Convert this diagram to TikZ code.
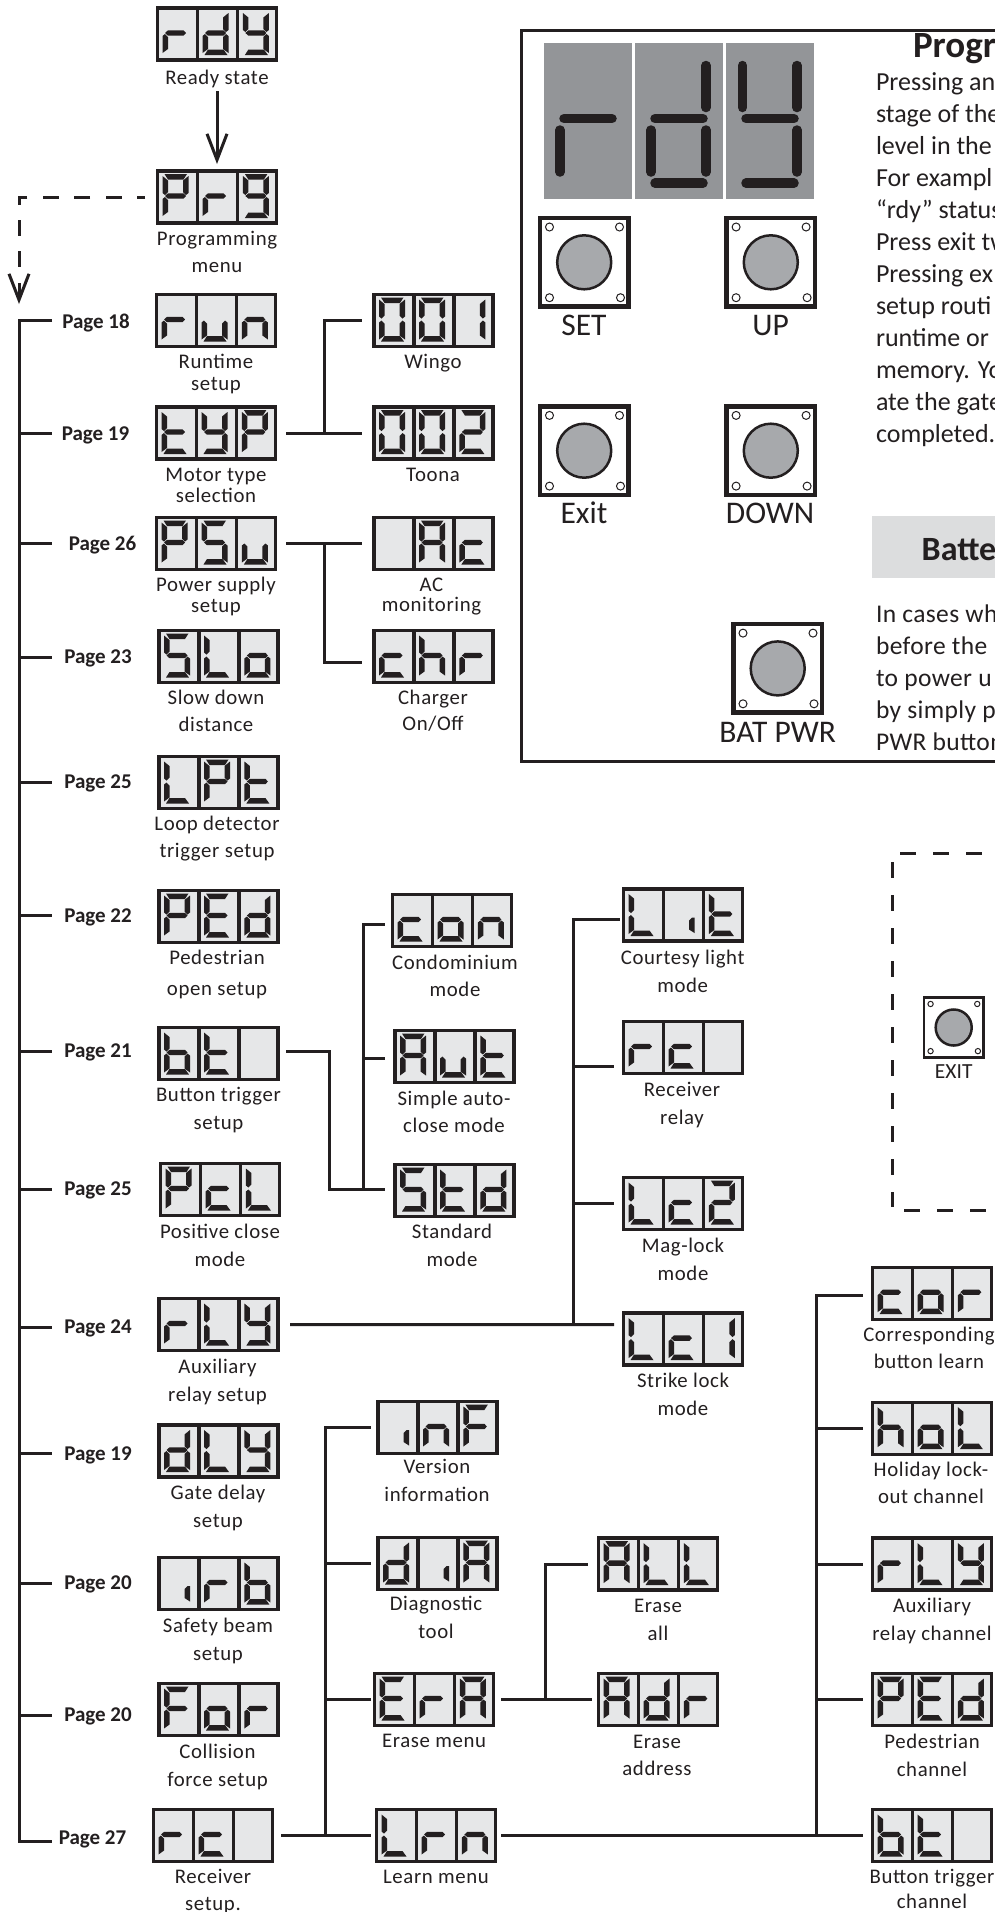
\documentclass[tikz,border=0pt]{standalone}
\usepackage{fontspec}
\usetikzlibrary{arrows.meta,calc}
\setmainfont{Carlito}
\newfontfamily\lblf[LetterSpace=3]{Carlito}
\newfontfamily\parf[LetterSpace=1.5]{Carlito}
\definecolor{ink}{HTML}{231F20}
\definecolor{cell}{HTML}{E6E7E8}
\definecolor{biglcd}{HTML}{939598}
\definecolor{btngray}{HTML}{A7A9AC}
\definecolor{panelgray}{HTML}{DCDDDE}
\tikzset{
  lcdbox/.style={draw=ink,fill=cell,line width=3.4pt,minimum width=119pt,minimum height=52pt,inner sep=0pt,outer sep=0pt,anchor=center},
  conn/.style={draw=ink,line width=3pt},
  barb/.style={-{Straight Barb[length=26pt,width=20pt,line width=3pt]}},
  dashconn/.style={conn,dash pattern=on 16pt off 15.4pt,dash phase=8pt},
  frameline/.style={draw=ink,line width=3pt},
  dashframe/.style={draw=ink,line width=3pt,dash pattern=on 16pt off 17pt},
  lbl/.style={inner sep=0pt,outer sep=0pt,anchor=north,align=center,text=ink},
  pagelbl/.style={inner sep=0pt,outer sep=0pt,anchor=base,text=ink,font=\bfseries\fontsize{21}{24}\selectfont},
  paraline/.style={inner sep=0pt,outer sep=0pt,anchor=base west,text=ink,font=\fontsize{26}{30}\selectfont},
  paraB/.style={inner sep=0pt,outer sep=0pt,anchor=base west,text=ink,font=\parf\fontsize{25.5}{30}\selectfont},
  head/.style={inner sep=0pt,outer sep=0pt,anchor=base west,text=ink,font=\bfseries\fontsize{37}{40}\selectfont},
  headB/.style={inner sep=0pt,outer sep=0pt,anchor=base west,text=ink,font=\bfseries\fontsize{34}{40}\selectfont},
  btnlbl/.style={inner sep=0pt,outer sep=0pt,anchor=base,text=ink,font=\fontsize{31.5}{34}\selectfont},
}
% segments, local pixel coordinates inside one cell
\def\sga{\fill[ink] (8.5,4.5)--(31,4.5)--(27.5,10)--(12,10)--cycle;}
\def\sgd{\fill[ink] (12,43)--(27.5,43)--(31.5,48.5)--(8.5,48.5)--cycle;}
\def\sgg{\fill[ink] (9,26.5)--(12,23.8)--(27.5,23.8)--(30,26.5)--(27.5,29.2)--(12,29.2)--cycle;}
\def\sgf{\fill[ink] (6.5,6.5)--(12,11)--(12,22.5)--(9,25.5)--(6.5,23.5)--cycle;}
\def\sge{\fill[ink] (6.5,29.5)--(9,27.5)--(12,30.5)--(12,42.5)--(6.5,46.5)--cycle;}
\def\sgb{\fill[ink] (32.5,6.5)--(32.5,23.5)--(30,25.5)--(27,22.5)--(27,11)--cycle;}
\def\sgc{\fill[ink] (32.5,29.5)--(32.5,46.5)--(27,42.5)--(27,30.5)--(30,27.5)--cycle;}
\def\sgi{\fill[ink] (27,33)--(30,30)--(32.5,30)--(32.5,45.5)--(27,42)--cycle;}
\def\segloop#1{\ifx#1\relax\else\csname sg#1\endcsname\expandafter\segloop\fi}
% \lcd{name}{x}{y}{digit1}{digit2}{digit3}
\newcommand\lcd[6]{%
  \node[lcdbox] (#1) at (#2+61,#3+27.5) {};
  \begin{scope}[shift={(#2,#3)}]
    \draw[ink,line width=3.6pt] (41.3,1)--(41.3,54) (81.3,1)--(81.3,54);
    \begin{scope}[shift={(0,0)}]\segloop#4\relax\end{scope}
    \begin{scope}[shift={(40,0)}]\segloop#5\relax\end{scope}
    \begin{scope}[shift={(80.4,0)}]\segloop#6\relax\end{scope}
  \end{scope}}
% \lab{name}{cx}{first baseline}{leading}{text}
\newcommand\lab[5]{\node[lbl,font=\lblf\fontsize{20.8}{#4}\selectfont] (#1) at (#2,#3-15) {\rule{0pt}{15pt}#5};}
% \btn{name}{cx}{cy}{scale}{frame line width}
\newcommand\btn[5]{%
  \begin{scope}[shift={(#2,#3)},scale=#4]
    \node[draw=ink,fill=white,line width=#5pt,inner sep=0pt,outer sep=0pt,minimum size={(93*#4-#5)*1pt}] (#1) at (0,0) {};
    \fill[btngray,draw=ink,line width=2.5pt] (0,0) circle (27);
    \foreach \hx/\hy in {-34.7/-35.3,35.3/-35.3,-34.7/35.4,36.3/35.4}
      \draw[ink,fill=white,line width=1pt] (\hx,\hy) circle (4);
  \end{scope}}
\newcommand\barH[4]{\draw[ink,line width=9.5pt,line cap=round] (#1+#2,#3)--(#1+#4,#3);}
\newcommand\barV[4]{\draw[ink,line width=9.5pt,line cap=round] (#1+#2,#3)--(#1+#2,#4);}
\begin{document}
\begin{tikzpicture}[x=1pt,y=-1pt]
\useasboundingbox (0,0) rectangle (995,1912);
\fill[white] (0,0) rectangle (995,1912);

% ---------- panel ----------
\draw[frameline] (995,30)--(521,30)--(521,761)--(995,761);
\fill[biglcd] (544,43) rectangle (632,199);
\fill[biglcd] (635,43) rectangle (723,199);
\fill[biglcd] (726,43) rectangle (814,199);
% r
\barH{544}{20}{118.6}{68}
\barV{544}{16}{130}{172}
% d
\barV{635}{71}{65.5}{107.5}
\barH{635}{20}{118.6}{68}
\barV{635}{16}{130}{172}
\barV{635}{71}{130}{172}
\barH{635}{20}{183.2}{68}
% y
\barV{726}{16.5}{65.5}{107.5}
\barV{726}{71}{65.5}{107.5}
\barH{726}{20}{118.6}{68}
\barV{726}{71}{130}{172}
\barH{726}{20}{183.2}{68}

\btn{bset}{584.2}{262.3}{1}{4.5}
\btn{bup}{770.8}{262.3}{1}{4.5}
\btn{bexit}{584.2}{450.7}{1}{4.5}
\btn{bdown}{770.8}{450.7}{1}{4.5}
\btn{bbat}{777.7}{668.4}{1}{4.5}
\node[btnlbl] (tset) at (584,335) {SET};
\node[btnlbl] (tup) at (770.6,335) {UP};
\node[btnlbl] (texit) at (584,523) {Exit};
\node[btnlbl] (tdown) at (770,523) {DOWN};
\node[btnlbl] (tbat) at (777.7,742.6) {BAT PWR};

\node[head] (phead) at (913,57.5) {Progr};
\node[paraline] (pa1) at (876,90.5) {Pressing an};
\node[paraline] (pa2) at (876,122.5) {stage of the};
\node[paraline] (pa3) at (876,154.5) {level in the};
\node[paraline] (pa4) at (876,186.5) {For exampl};
\node[paraline] (pa5) at (876,218.5) {“rdy” status};
\node[paraline] (pa6) at (876,250.5) {Press exit tw};
\node[paraline] (pa7) at (876,282.5) {Pressing ex};
\node[paraline] (pa8) at (876,314.5) {setup routi};
\node[paraline] (pa9) at (876,346.5) {runtime or};
\node[paraline] (pa10) at (876,378.5) {memory. Yo};
\node[paraline] (pa11) at (876,410.5) {ate the gate};
\node[paraline] (pa12) at (876,442.5) {completed.};

\fill[panelgray] (872,516) rectangle (995,577.5);
\node[headB] (bhead) at (921.7,560.8) {Batte};
\node[paraB] (pb1) at (876,622) {In cases wh};
\node[paraB] (pb2) at (876,654) {before the};
\node[paraB] (pb3) at (876,686) {to power u};
\node[paraB] (pb4) at (876,718) {by simply p};
\node[paraB] (pb5) at (876,750) {PWR button};

% ---------- dashed frame ----------
\draw[dashframe] (900,853)--(995,853);
\draw[dashframe] (892,862)--(892,1207);
\draw[dashframe] (904,1210.5)--(995,1210.5);
\btn{bsmall}{953.7}{1027.5}{0.667}{2.6}
\node[btnlbl,font=\fontsize{21.5}{24}\selectfont] (tsmall) at (953.7,1078) {EXIT};

% ---------- displays ----------
\lcd{rdy}{156}{6.5}{eg}{bcdeg}{bcdfg}
\lcd{prg}{156}{169.5}{abefg}{eg}{abcdfg}
\lcd{run}{155}{293}{eg}{cde}{ceg}
\lcd{typ}{155}{405.5}{defg}{bcdfg}{abefg}
\lcd{psu}{155}{516}{abefg}{acdfg}{cde}
\lcd{slo}{157.5}{629}{acdfg}{def}{cdeg}
\lcd{lpt}{157.5}{755}{def}{abefg}{defg}
\lcd{ped}{157.5}{889}{abefg}{adefg}{bcdeg}
\lcd{btn}{157.5}{1026}{cdefg}{defg}{}
\lcd{pcl}{159}{1162}{abefg}{deg}{def}
\lcd{rly}{157.5}{1297}{eg}{def}{bcdfg}
\lcd{dly}{157.5}{1423.5}{bcdeg}{def}{bcdfg}
\lcd{irb}{157.5}{1556}{i}{eg}{cdefg}
\lcd{for}{157.5}{1682}{aefg}{cdeg}{eg}
\lcd{rc}{152}{1808}{eg}{deg}{}
\lcd{w001}{372.5}{293}{abcdef}{abcdef}{bc}
\lcd{w002}{372.5}{405.5}{abcdef}{abcdef}{abdeg}
\lcd{ac}{372.5}{516}{}{abcefg}{deg}
\lcd{chr}{372.5}{629}{deg}{cefg}{eg}
\lcd{con}{391}{893}{deg}{cdeg}{ceg}
\lcd{aut}{393.5}{1029}{abcefg}{cde}{defg}
\lcd{std}{393.5}{1163}{acdfg}{defg}{bcdeg}
\lcd{inf}{376.5}{1400}{i}{ceg}{aefg}
\lcd{dia}{376.5}{1536}{bcdeg}{i}{abcefg}
\lcd{era}{373}{1672}{adefg}{eg}{abcefg}
\lcd{lrn}{375}{1808}{def}{eg}{ceg}
\lcd{lit}{622}{887.5}{def}{i}{defg}
\lcd{rc2}{622}{1020}{eg}{deg}{}
\lcd{lc2}{622}{1176}{def}{deg}{abdeg}
\lcd{lc1}{622}{1311.6}{def}{deg}{bc}
\lcd{all}{597}{1536.6}{abcefg}{def}{def}
\lcd{adr}{597}{1672}{abcefg}{bcdeg}{eg}
\lcd{cor}{871}{1265.7}{deg}{cdeg}{eg}
\lcd{hol}{871}{1400.7}{cefg}{cdeg}{def}
\lcd{rly2}{871}{1536.6}{eg}{def}{bcdfg}
\lcd{ped2}{871}{1672}{abefg}{adefg}{bcdeg}
\lcd{bt2}{871}{1808}{cdefg}{defg}{}

% ---------- labels ----------
\lab{lrdy}{217}{84}{24}{Ready state}
\lab{lprg}{217}{245}{27}{Programming\\menu}
\lab{lrun}{216}{368}{22}{Runtime\\setup}
\lab{ltyp}{216}{481}{21}{Motor type\\selection}
\lab{lpsu}{216}{591.7}{21}{Power supply\\setup}
\lab{lslo}{216}{704}{27.7}{Slow down\\distance}
\lab{llpt}{217}{830}{27.7}{Loop detector\\trigger setup}
\lab{lped}{217}{964}{31.5}{Pedestrian\\open setup}
\lab{lbtn}{218.5}{1101}{28}{Button trigger\\setup}
\lab{lpcl}{220}{1238}{28}{Positive close\\mode}
\lab{lrly}{217.5}{1373}{28}{Auxiliary\\relay setup}
\lab{ldly}{218}{1499}{28}{Gate delay\\setup}
\lab{lirb}{218}{1632}{28}{Safety beam\\setup}
\lab{lfor}{217.5}{1758}{28}{Collision\\force setup}
\lab{lrc}{213}{1883}{27.5}{Receiver\\setup.}
\lab{lw1}{433}{368}{24}{Wingo}
\lab{lw2}{433}{481}{24}{Toona}
\lab{lac}{431.5}{591.7}{19.5}{AC\\monitoring}
\lab{lchr}{433}{704}{26}{Charger\\On/Off}
\lab{lcon}{455}{969}{27}{Condominium\\mode}
\lab{laut}{454}{1105}{27.7}{Simple auto-\\close mode}
\lab{lstd}{452}{1238}{28}{Standard\\mode}
\lab{linf}{437}{1473.7}{27.5}{Version\\information}
\lab{ldia}{436}{1610}{28}{Diagnostic\\tool}
\lab{lera}{434}{1747}{24}{Erase menu}
\lab{llrn}{436}{1883}{24}{Learn menu}
\lab{llit}{682.7}{964}{28}{Courtesy light\\mode}
\lab{lrc2}{682}{1096.6}{27.5}{Receiver\\relay}
\lab{llc2}{683}{1252}{28}{Mag-lock\\mode}
\lab{llc1}{683}{1387}{28}{Strike lock\\mode}
\lab{lall}{658}{1612}{28}{Erase\\all}
\lab{ladr}{657}{1748}{27}{Erase\\address}
\lab{lcor}{929}{1341.6}{27}{Corresponding\\button learn}
\lab{lhol}{931}{1476.6}{27}{Holiday lock-\\out channel}
\lab{lrl2}{932}{1612}{28}{Auxiliary\\relay channel}
\lab{lpe2}{932}{1748}{28}{Pedestrian\\channel}
\lab{lbt2}{932}{1883}{25}{Button trigger\\channel}

% ---------- page labels ----------
\node[pagelbl] (p18) at (96,328) {Page 18};
\node[pagelbl] (p19a) at (95.5,440) {Page 19};
\node[pagelbl] (p26) at (102.5,550) {Page 26};
\node[pagelbl] (p23) at (98,663) {Page 23};
\node[pagelbl] (p25a) at (98,788) {Page 25};
\node[pagelbl] (p22) at (98,922) {Page 22};
\node[pagelbl] (p21) at (98,1057) {Page 21};
\node[pagelbl] (p25b) at (98,1195) {Page 25};
\node[pagelbl] (p24) at (98,1333) {Page 24};
\node[pagelbl] (p19b) at (98,1460) {Page 19};
\node[pagelbl] (p20a) at (98,1589) {Page 20};
\node[pagelbl] (p20b) at (98,1721) {Page 20};
\node[pagelbl] (p27) at (92.5,1844) {Page 27};

% ---------- trunk and ticks ----------
\coordinate (trunk) at (19,0);
\coordinate (t18) at (52,320);
\coordinate (t19a) at (52,433);
\coordinate (t26) at (52,543.5);
\coordinate (t23) at (52,657);
\coordinate (t25a) at (52,782);
\coordinate (t22) at (52,915.7);
\coordinate (t21) at (52,1051);
\coordinate (t25b) at (52,1189);
\coordinate (t24) at (52,1327.7);
\coordinate (t19b) at (52,1453.7);
\coordinate (t20a) at (52,1583.7);
\coordinate (t20b) at (52,1715);
\coordinate (t27) at (52,1841);
\draw[conn] (t18)--(t18-|trunk)--(t27-|trunk)--(t27);
\foreach \t in {t19a,t26,t23,t25a,t22,t21,t25b,t24,t19b,t20a,t20b}
  \draw[conn] (\t-|trunk)--(\t);

% ---------- arrows ----------
\draw[conn,barb] ([yshift=-31pt]rdy.south)--([yshift=7pt]prg.north);
\coordinate (dtip) at (19,304);
\draw[dashconn,barb] ([xshift=-12.5pt]prg.west)-|(dtip);

% ---------- branches ----------
\coordinate (j1) at (324,433);
\draw[conn] ([xshift=10.5pt]typ.east)--([xshift=-12pt]w002.west);
\draw[conn] (j1)|-([xshift=-12pt]w001.west);

\coordinate (j2) at (324,543.5);
\draw[conn] ([xshift=10.5pt]psu.east)--([xshift=-12pt]ac.west);
\draw[conn] (j2)|-([xshift=-12pt,yshift=-6pt]chr.west);

\coordinate (j3a) at (329,1189);
\coordinate (j3) at (363,1189);
\coordinate (taut) at ([xshift=-10pt,yshift=-1.5pt]aut.west);
\draw[conn] ([xshift=8pt,yshift=1.8pt]btn.east)-|(j3a)--([xshift=-10pt,yshift=1.5pt]std.west);
\draw[conn] (j3)|-([xshift=-7.5pt,yshift=-3.8pt]con.west);
\draw[conn] (taut-|j3)--(taut);

\coordinate (j4) at (573.5,1324.5);
\coordinate (trc2) at ([xshift=-9.5pt,yshift=-18.5pt]rc2.west);
\coordinate (tlc2) at ([xshift=-9.5pt,yshift=0.5pt]lc2.west);
\draw[conn] ([xshift=12pt]rly.east)--([xshift=-9.5pt,yshift=14.5pt]lc1.west);
\draw[conn] (j4)|-([xshift=-4pt,yshift=-4.6pt]lit.west);
\draw[conn] (trc2-|j4)--(trc2);
\draw[conn] (tlc2-|j4)--(tlc2);

\coordinate (j5) at (325,1835.5);
\coordinate (tdia) at ([xshift=-7pt]dia.west);
\coordinate (tera) at ([xshift=-3.5pt]era.west);
\draw[conn] ([xshift=8.5pt]rc.east)--([xshift=-5.5pt]lrn.west);
\draw[conn] (j5)|-([xshift=-7pt]inf.west);
\draw[conn] (tdia-|j5)--(tdia);
\draw[conn] (tera-|j5)--(tera);

\coordinate (j6) at (545,1699.5);
\draw[conn] ([xshift=7.5pt]era.east)--([xshift=-6.5pt]adr.west);
\draw[conn] (j6)|-([xshift=-10.5pt]all.west);

\coordinate (j7) at (816.7,1835.5);
\coordinate (thol) at ([xshift=-9.8pt]hol.west);
\coordinate (trl2) at ([xshift=-9.8pt]rly2.west);
\coordinate (tpe2) at ([xshift=-9.8pt]ped2.west);
\draw[conn] ([xshift=5.5pt]lrn.east)--([xshift=-9.8pt]bt2.west);
\draw[conn] (j7)|-([xshift=-9.8pt,yshift=-1.8pt]cor.west);
\draw[conn] (thol-|j7)--(thol);
\draw[conn] (trl2-|j7)--(trl2);
\draw[conn] (tpe2-|j7)--(tpe2);
\end{tikzpicture}
\end{document}
